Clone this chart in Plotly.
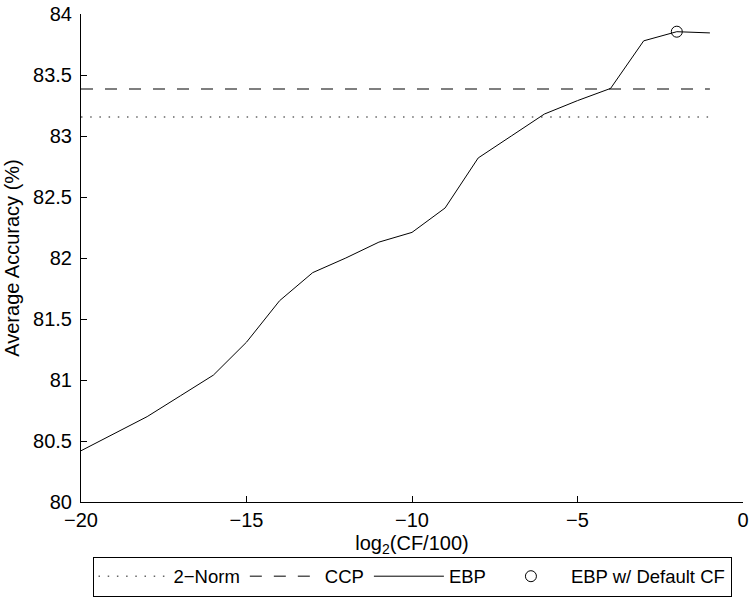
import plotly.graph_objects as go

# Data
cf_log2 = [-20, -19, -18, -17, -16, -15, -14, -13, -12, -11, -10, -9, -8, -7, -6, -5, -4, -3, -2, -1]
ebp_acc = [80.42, 80.56, 80.70, 80.87, 81.04, 81.31, 81.65, 81.88, 82.00, 82.13, 82.21, 82.41, 82.82, 83.00, 83.18, 83.29, 83.39, 83.78, 83.855, 83.845]
norm2_acc = 83.155
ccp_acc = 83.385
default_cf_x = [-2]
default_cf_y = [83.855]

y_ticks = [80, 80.5, 81, 81.5, 82, 82.5, 83, 83.5, 84]
y_ticklabels = ["80", "80.5", "81", "81.5", "82", "82.5", "83", "83.5", "84"]
x_ticks = [-20, -15, -10, -5, 0]

line_x = [cf_log2[0], cf_log2[-1]]

FONT = "Liberation Sans, Arial, Helvetica, sans-serif"
FS = 20

fig = go.Figure()
fig.add_trace(go.Scatter(x=line_x, y=[norm2_acc, norm2_acc], mode="lines", name="2\u2212Norm",
                         line=dict(color="#666666", width=1.5, dash="1.5px,7.7px")))
fig.add_trace(go.Scatter(x=line_x, y=[ccp_acc, ccp_acc], mode="lines", name="CCP",
                         line=dict(color="#555555", width=1.6, dash="12px,12px")))
fig.add_trace(go.Scatter(x=cf_log2, y=ebp_acc, mode="lines", name="EBP",
                         line=dict(color="black", width=1)))
fig.add_trace(go.Scatter(x=default_cf_x, y=default_cf_y, mode="markers", name="EBP w/ Default CF",
                         marker=dict(symbol="circle-open", size=11, color="black", line=dict(width=1, color="black"))))

fig.update_layout(
    width=753, height=601,
    margin=dict(l=81, r=10, t=14, b=99, autoexpand=False),
    plot_bgcolor="white", paper_bgcolor="white",
    font=dict(family=FONT, size=FS, color="black"),
    showlegend=True,
    legend=dict(orientation="h", x=0.5, xanchor="center", y=-0.194, yanchor="bottom",
                bordercolor="black", borderwidth=1, font=dict(size=18.5),
                bgcolor="white", itemwidth=70),
)
fig.update_xaxes(range=[-20, 0], tickvals=x_ticks, automargin=False,
                 ticks="inside", ticklen=6, tickcolor="black",
                 showline=True, linecolor="black", linewidth=1,
                 showgrid=False, zeroline=False,
                 title=dict(text="log<sub>2</sub>(CF/100)", standoff=5, font=dict(size=FS)))
fig.update_yaxes(range=[80, 84], tickvals=y_ticks, ticktext=y_ticklabels, automargin=False,
                 ticks="inside", ticklen=6, tickcolor="black",
                 showline=True, linecolor="black", linewidth=1,
                 showgrid=False, zeroline=False, ticklabelstandoff=4,
                 title=dict(text="Average Accuracy (%)", standoff=8, font=dict(size=FS)))

fig.write_html("out.html", config={"displayModeBar": False},
               post_script="document.body.style.margin='0';document.body.style.padding='0';")
